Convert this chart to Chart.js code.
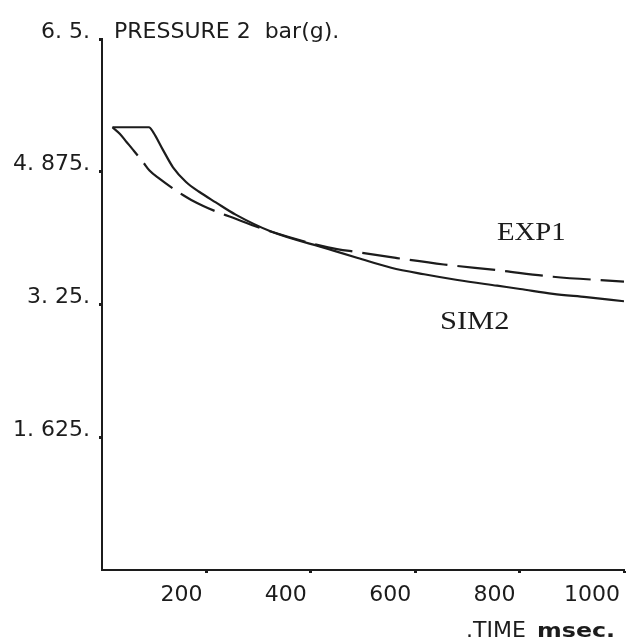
<!DOCTYPE html>
<html>
<head>
<meta charset="utf-8">
<script src="https://cdn.jsdelivr.net/npm/chart.js@4/dist/chart.umd.min.js"></script>
<style>
  html, body { margin: 0; background: #fff; }
  #wrap { width: 633px; height: 641px; }
</style>
</head>
<body>
<div id="wrap"><canvas id="myChart"></canvas></div>
<script>
// values
const simTime = [20, 90, 98, 117, 136, 161, 186, 218, 256, 325, 433, 490, 554, 617, 681, 757, 801, 864, 928, 1000]
const simPressure = [5.42, 5.42, 5.36, 5.14, 4.93, 4.75, 4.63, 4.50, 4.35, 4.14, 3.93, 3.82, 3.70, 3.62, 3.55, 3.48, 3.44, 3.38, 3.34, 3.29]

const expTime = [20, 34, 47, 60, 79, 91, 110, 136, 155, 171, 193, 218, 243, 325, 433, 490, 563, 655, 757, 864, 1000]
const expPressure = [5.42, 5.34, 5.24, 5.14, 4.99, 4.89, 4.79, 4.67, 4.59, 4.53, 4.46, 4.39, 4.33, 4.14, 3.95, 3.89, 3.82, 3.74, 3.67, 3.59, 3.53]

const xTicks = [200, 400, 600, 800, 1000]
const xLabels = ["200", "400", "600", "800", "1000"]
const yTicks = [1.625, 3.25, 4.875, 6.5]
const yLabels = ["1. 625.", "3. 25.", "4. 875.", "6. 5."]

const ink = "#1c1c1c"
const plotFont = "DejaVu Sans"

function toPoints(xs, ys) {
    return xs.map((x, i) => ({ x: x, y: ys[i] }))
}

function stretchedText(ctx, text, x, y, sx) {
    ctx.save()
    ctx.translate(x, y)
    ctx.scale(sx, 1)
    ctx.fillText(text, 0, 0)
    ctx.restore()
}

// free text on the plot: title, axis name, curve names
const annotations = {
    id: "annotations",
    afterDraw(chart) {
        const ctx = chart.ctx
        ctx.save()
        ctx.fillStyle = ink
        ctx.textBaseline = "alphabetic"
        ctx.textAlign = "left"

        ctx.font = "22px '" + plotFont + "'"
        ctx.fillText("PRESSURE 2  bar(g).", 114, 38)
        ctx.fillText(".TIME", 466, 637)
        ctx.font = "bold 19px '" + plotFont + "'"
        stretchedText(ctx, "msec.", 537, 637, 1.25)

        ctx.font = "25px 'Liberation Serif'"
        stretchedText(ctx, "EXP1", 497, 240, 1.15)
        stretchedText(ctx, "SIM2", 440, 329, 1.22)

        ctx.restore()
    }
}

function printChart() {
    const ctx = document.getElementById("myChart")

    new Chart(ctx, {
        type: "line",
        data: {
            datasets: [
                {
                    label: "SIM2",
                    data: toPoints(simTime, simPressure),
                    borderColor: ink,
                    borderWidth: 2.2,
                    pointRadius: 0,
                    cubicInterpolationMode: "monotone",
                },
                {
                    label: "EXP1",
                    data: toPoints(expTime, expPressure),
                    borderColor: ink,
                    borderWidth: 2.2,
                    borderDash: [38, 10],
                    pointRadius: 0,
                    cubicInterpolationMode: "monotone",
                },
            ],
        },
        options: {
            responsive: true,
            maintainAspectRatio: false,
            animation: false,
            layout: {
                padding: { top: 39, right: 5, left: 0, bottom: 0 },
            },
            plugins: {
                legend: { display: false },
                tooltip: { enabled: false },
            },
            scales: {
                x: {
                    type: "linear",
                    min: 0,
                    max: 1000,
                    afterBuildTicks: s => { s.ticks = xTicks.map(v => ({ value: v })) },
                    afterFit: s => { s.height = 71 },
                    border: { color: ink, width: 2 },
                    grid: { drawOnChartArea: false, tickLength: 3, tickWidth: 3, color: ink },
                    ticks: {
                        color: ink,
                        font: { family: plotFont, size: 22 },
                        align: "end",
                        labelOffset: -4,
                        padding: 9,
                        maxRotation: 0,
                        callback: v => xLabels[xTicks.indexOf(v)],
                    },
                },
                y: {
                    min: 0,
                    max: 6.5,
                    afterBuildTicks: s => { s.ticks = yTicks.map(v => ({ value: v })) },
                    afterFit: s => { s.width = 102 },
                    border: { color: ink, width: 2 },
                    grid: { drawOnChartArea: false, tickLength: 3, tickWidth: 3, color: ink },
                    ticks: {
                        color: ink,
                        font: { family: plotFont, size: 22 },
                        labelOffset: -7,
                        padding: 9,
                        callback: v => yLabels[yTicks.indexOf(v)],
                    },
                },
            },
        },
        plugins: [annotations],
    })
}

document.addEventListener("DOMContentLoaded", printChart)
</script>
</body>
</html>
